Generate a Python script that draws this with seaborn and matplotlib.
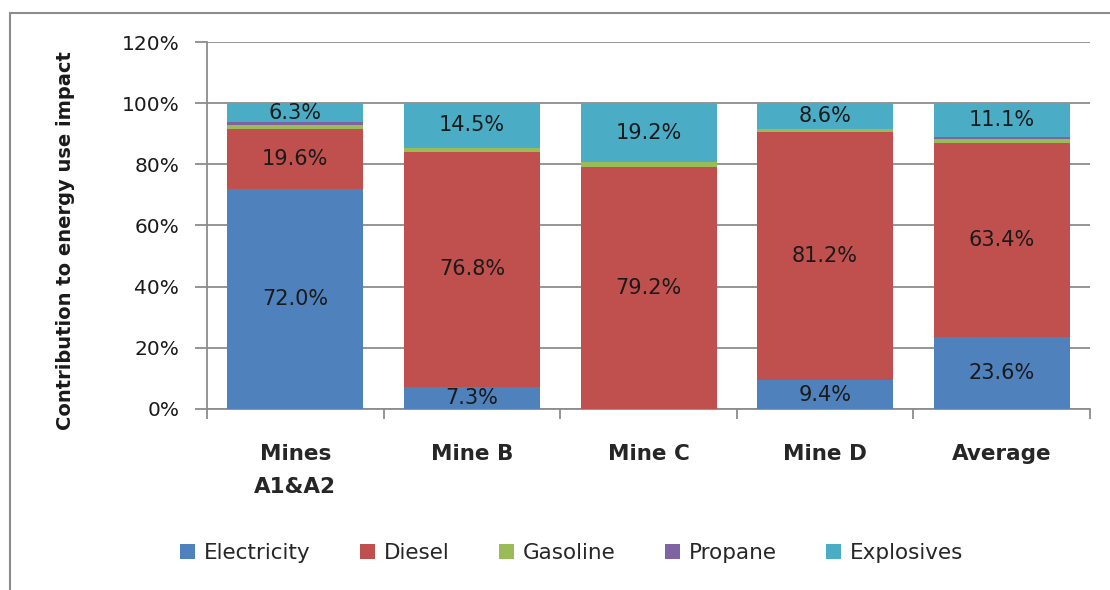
import numpy as np
import pandas as pd
import matplotlib
matplotlib.use("Agg")
import matplotlib.pyplot as plt
import seaborn as sns
from matplotlib.patches import Patch
from matplotlib.lines import Line2D
from matplotlib.ticker import MultipleLocator, FixedLocator, PercentFormatter

# data (percent of energy-use impact)
mines = ["Mines\nA1&A2", "Mine B", "Mine C", "Mine D", "Average"]
electricity = [72.0, 7.3, 0.0, 9.4, 23.6]
diesel = [19.6, 76.8, 79.2, 81.2, 63.4]
gasoline = [1.3, 1.1, 1.6, 0.8, 1.4]
propane = [0.8, 0.3, 0.0, 0.0, 0.5]
explosives = [6.3, 14.5, 19.2, 8.6, 11.1]

sources = ["Electricity", "Diesel", "Gasoline", "Propane", "Explosives"]
colors = ["#4F81BD", "#C0504D", "#9BBB59", "#8064A2", "#4BACC6"]
labelled = ["Electricity", "Diesel", "Explosives"]

df = pd.DataFrame({"Mine": mines, "Electricity": electricity, "Diesel": diesel,
                   "Gasoline": gasoline, "Propane": propane, "Explosives": explosives})
cum = df[sources].cumsum(axis=1)

sns.set_style("white")
plt.rcParams["font.family"] = ["DejaVu Sans"]

fig = plt.figure(figsize=(11.1, 5.9), dpi=100)
ax = fig.add_axes([0.1865, 0.3068, 0.7955, 0.622])

# stacked bars: draw cumulative totals from the top layer down
for src, col in reversed(list(zip(sources, colors))):
    sns.barplot(x=df["Mine"], y=cum[src], color=col, width=0.77,
                saturation=1, ax=ax, linewidth=0, zorder=3)

# segment labels
for i in range(len(mines)):
    for src in labelled:
        v = df.loc[i, src]
        if v <= 0:
            continue
        top = cum.loc[i, src]
        ax.text(i, top - v / 2, f"{v:.1f}%", ha="center", va="center",
                fontsize=15, color="#1a1a1a", zorder=5)

ax.set_ylim(0, 120)
ax.set_xlim(-0.5, len(mines) - 0.5)
ax.yaxis.set_major_locator(MultipleLocator(20))
ax.yaxis.set_major_formatter(PercentFormatter(decimals=0))
ax.yaxis.grid(True, color="#8c8c8c", linewidth=1.3, zorder=0)
ax.set_axisbelow(True)

ax.set_xlabel("")
ax.set_ylabel("")
for s in ["top", "right"]:
    ax.spines[s].set_visible(False)
for s in ["left", "bottom"]:
    ax.spines[s].set_color("#8c8c8c")
    ax.spines[s].set_linewidth(1.3)

ax.tick_params(axis="y", length=9, width=1.3, color="#8c8c8c", pad=11,
               labelsize=14.5, labelcolor="#1a1a1a", left=True)
ax.tick_params(axis="x", which="major", length=0, pad=25, labelsize=15.5)
ax.xaxis.set_minor_locator(FixedLocator(np.arange(-0.5, len(mines), 1.0)))
ax.tick_params(axis="x", which="minor", length=7, width=1.3, color="#8c8c8c", bottom=True)
for lab in ax.get_xticklabels():
    lab.set_fontweight("bold")
    lab.set_linespacing(1.85)
    lab.set_verticalalignment("top")

fig.text(0.0586, 0.593, "Contribution to energy use impact", rotation=90,
         ha="center", va="center", fontsize=14, fontweight="bold", color="#1a1a1a")

handles = [Patch(facecolor=c, edgecolor="none", label=s) for s, c in zip(sources, colors)]
fig.legend(handles=handles, loc="center", bbox_to_anchor=(0.515, 0.063), ncol=5,
           frameon=False, fontsize=15.5, handlelength=0.7, handleheight=0.7,
           handletextpad=0.4, columnspacing=2.3)

# outer chart frame (top and left edges visible in the reference)
fig.add_artist(Line2D([0.009, 1.0], [0.978, 0.978], color="#8c8c8c", linewidth=1.5,
                      transform=fig.transFigure))
fig.add_artist(Line2D([0.009, 0.009], [0.0, 0.978], color="#8c8c8c", linewidth=1.5,
                      transform=fig.transFigure))

fig.savefig("out.png", dpi=100)
